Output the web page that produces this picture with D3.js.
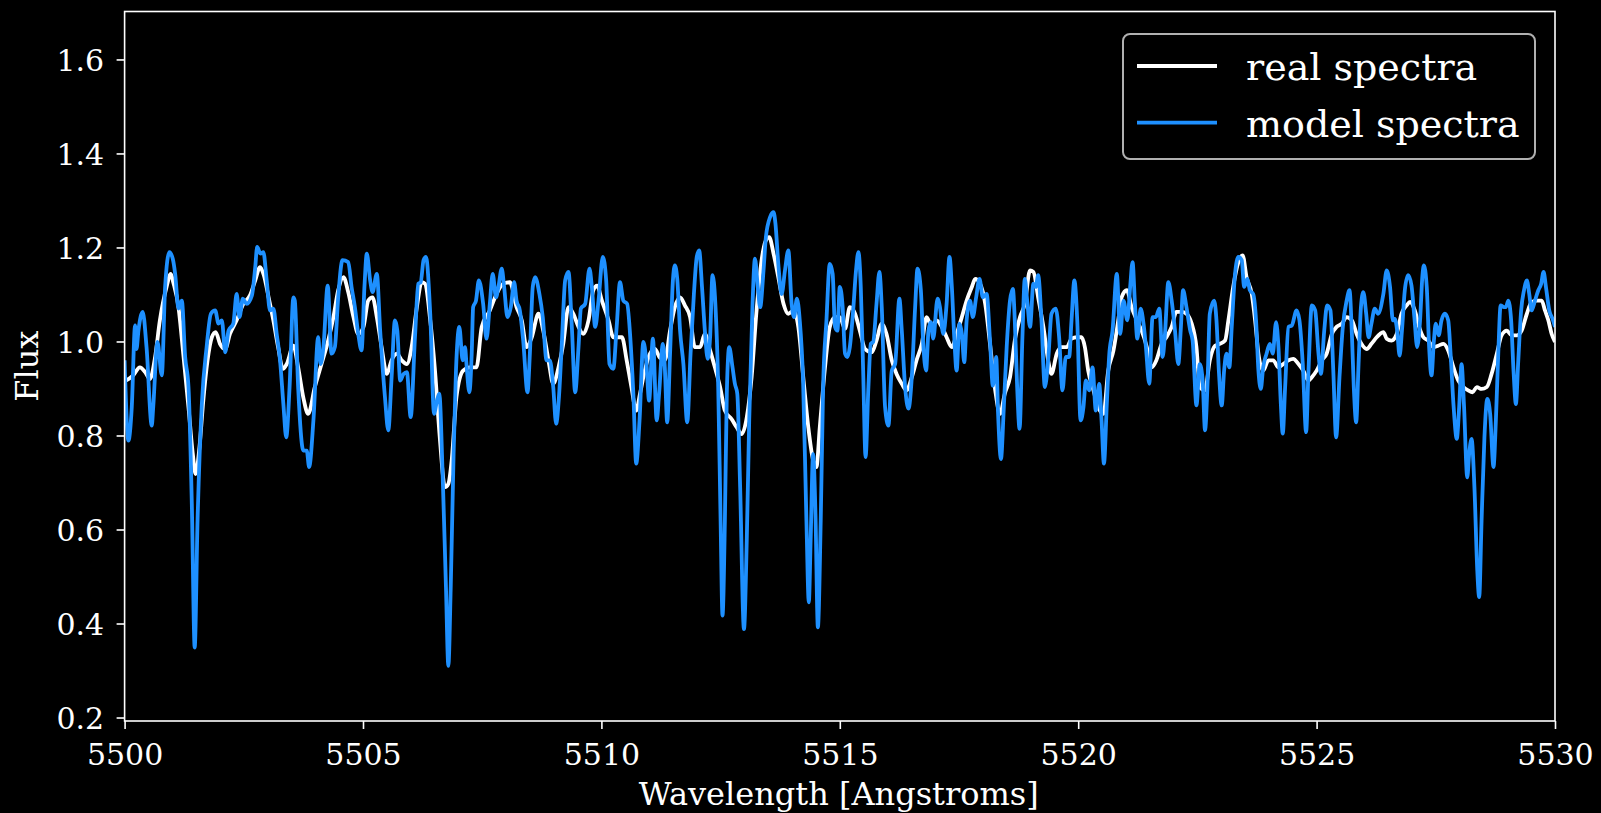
<!DOCTYPE html>
<html>
<head>
<meta charset="utf-8">
<script src="https://d3js.org/d3.v7.min.js"></script>
<style>
body { margin: 0; background: #000; }
svg { display: block; }
text { font-family: 'DejaVu Serif', serif; fill: #fff; }
</style>
</head>
<body>
<svg id="chart"></svg>
<script>

// Axis ticks
var xTicks = [5500, 5505, 5510, 5515, 5520, 5525, 5530];
var yTicks = [0.2, 0.4, 0.6, 0.8, 1.0, 1.2, 1.4, 1.6];

// Series names and colours
var seriesNames = ["real spectra", "model spectra"];
var seriesColors = ["#ffffff", "#1e90ff"];

var realPoints = [
[5500.00,0.915],[5500.18,0.928],[5500.32,0.945],[5500.43,0.935],[5500.53,0.920],[5500.64,0.967],
[5500.74,1.045],[5500.88,1.116],[5500.97,1.144],[5501.02,1.126],[5501.13,1.073],[5501.23,0.974],
[5501.34,0.860],[5501.43,0.761],[5501.49,0.718],[5501.57,0.775],[5501.65,0.874],[5501.74,0.960],
[5501.83,1.009],[5501.91,1.020],[5502.00,0.995],[5502.11,0.984],[5502.21,1.016],[5502.35,1.045],
[5502.49,1.080],[5502.63,1.098],[5502.74,1.130],[5502.84,1.158],[5502.92,1.141],[5503.02,1.094],
[5503.12,1.045],[5503.22,0.988],[5503.32,0.942],[5503.40,0.952],[5503.54,0.991],[5503.64,0.945],
[5503.75,0.880],[5503.85,0.846],[5503.99,0.903],[5504.13,0.952],[5504.27,1.002],[5504.38,1.052],
[5504.48,1.109],[5504.59,1.137],[5504.69,1.105],[5504.80,1.052],[5504.90,1.016],[5505.01,1.031],
[5505.11,1.087],[5505.20,1.094],[5505.29,1.052],[5505.39,0.988],[5505.50,0.931],[5505.60,0.960],
[5505.71,0.974],[5505.81,0.960],[5505.92,0.952],[5506.02,0.988],[5506.13,1.073],[5506.23,1.126],
[5506.30,1.123],[5506.41,1.045],[5506.51,0.938],[5506.61,0.796],[5506.72,0.690],[5506.79,0.697],
[5506.86,0.747],[5506.96,0.882],[5507.10,0.938],[5507.24,0.945],[5507.38,0.945],[5507.49,1.031],
[5507.66,1.066],[5507.80,1.101],[5507.94,1.123],[5508.08,1.126],[5508.22,1.073],[5508.33,1.045],
[5508.43,0.988],[5508.54,1.009],[5508.68,1.059],[5508.78,1.023],[5508.89,0.960],[5508.99,0.910],
[5509.10,0.945],[5509.20,0.995],[5509.31,1.073],[5509.41,1.059],[5509.52,1.031],[5509.62,1.016],
[5509.73,1.045],[5509.83,1.109],[5509.91,1.119],[5510.01,1.087],[5510.15,1.045],[5510.25,1.009],
[5510.43,1.009],[5510.53,0.960],[5510.63,0.903],[5510.73,0.853],[5510.81,0.889],[5510.91,0.938],
[5511.02,0.974],[5511.12,0.984],[5511.23,0.965],[5511.33,0.960],[5511.44,1.023],[5511.54,1.073],
[5511.65,1.094],[5511.75,1.077],[5511.86,1.052],[5511.96,0.988],[5512.07,0.988],[5512.17,1.016],
[5512.28,0.981],[5512.38,0.945],[5512.49,0.903],[5512.59,0.853],[5512.73,0.835],[5512.84,0.817],
[5512.94,0.803],[5513.05,0.839],[5513.15,0.924],[5513.26,1.073],[5513.36,1.173],[5513.45,1.215],
[5513.52,1.222],[5513.61,1.187],[5513.71,1.137],[5513.82,1.080],[5513.92,1.059],[5514.03,1.066],
[5514.13,1.031],[5514.24,0.917],[5514.34,0.817],[5514.44,0.747],[5514.51,0.733],[5514.58,0.817],
[5514.69,0.945],[5514.79,1.031],[5514.90,1.052],[5515.00,1.052],[5515.11,1.027],[5515.21,1.073],
[5515.32,1.059],[5515.42,1.023],[5515.53,0.984],[5515.67,0.977],[5515.77,1.002],[5515.88,1.038],
[5515.98,1.016],[5516.09,0.960],[5516.19,0.931],[5516.30,0.910],[5516.40,0.896],[5516.51,0.924],
[5516.61,0.960],[5516.72,0.995],[5516.82,1.052],[5516.93,1.031],[5517.03,1.045],[5517.14,1.031],
[5517.24,1.009],[5517.35,0.988],[5517.45,1.016],[5517.56,1.052],[5517.66,1.087],[5517.77,1.116],
[5517.84,1.133],[5517.94,1.123],[5518.05,1.080],[5518.15,0.995],[5518.26,0.896],[5518.36,0.846],
[5518.46,0.889],[5518.57,0.924],[5518.67,1.002],[5518.78,1.052],[5518.88,1.080],[5518.99,1.151],
[5519.06,1.148],[5519.16,1.094],[5519.27,1.031],[5519.37,0.960],[5519.44,0.931],[5519.55,0.974],
[5519.65,0.988],[5519.76,0.988],[5519.86,1.006],[5519.97,1.009],[5520.07,1.009],[5520.14,0.988],
[5520.21,0.938],[5520.32,0.896],[5520.42,0.860],[5520.53,0.846],[5520.63,0.938],[5520.74,0.981],
[5520.84,1.045],[5520.91,1.094],[5521.02,1.109],[5521.12,1.073],[5521.23,1.045],[5521.33,1.023],
[5521.44,0.988],[5521.54,0.945],[5521.64,0.960],[5521.75,0.995],[5521.85,1.009],[5521.96,1.031],
[5522.06,1.063],[5522.17,1.063],[5522.27,1.059],[5522.38,1.038],[5522.48,0.988],[5522.55,0.903],
[5522.66,0.896],[5522.76,0.960],[5522.87,0.991],[5522.97,0.995],[5523.08,1.002],[5523.15,1.045],
[5523.25,1.116],[5523.36,1.169],[5523.45,1.183],[5523.53,1.137],[5523.64,1.101],[5523.71,1.045],
[5523.78,0.974],[5523.88,0.938],[5523.99,0.960],[5524.09,0.960],[5524.20,0.945],[5524.30,0.952],
[5524.41,0.960],[5524.51,0.963],[5524.62,0.952],[5524.72,0.938],[5524.83,0.917],[5524.90,0.924],
[5525.00,0.938],[5525.11,0.960],[5525.21,0.974],[5525.32,1.016],[5525.42,1.031],[5525.53,1.038],
[5525.63,1.052],[5525.74,1.045],[5525.84,1.016],[5525.94,0.995],[5526.05,0.984],[5526.15,0.995],
[5526.26,1.009],[5526.33,1.016],[5526.40,1.020],[5526.47,1.006],[5526.57,1.002],[5526.68,1.016],
[5526.78,1.059],[5526.89,1.077],[5526.96,1.084],[5527.06,1.066],[5527.15,1.031],[5527.24,1.009],
[5527.34,1.002],[5527.45,0.988],[5527.55,0.991],[5527.66,0.995],[5527.76,0.981],[5527.87,0.945],
[5527.97,0.917],[5528.08,0.903],[5528.18,0.896],[5528.27,0.892],[5528.36,0.903],[5528.46,0.899],
[5528.57,0.903],[5528.67,0.931],[5528.78,0.974],[5528.88,1.013],[5528.99,1.023],[5529.09,1.013],
[5529.20,1.013],[5529.30,1.023],[5529.41,1.059],[5529.51,1.084],[5529.62,1.087],[5529.72,1.087],
[5529.79,1.066],[5529.86,1.045],[5529.93,1.016],[5530.00,0.999]
];

// Model spectrum, [wavelength, flux]
var modelPoints = [
[5500.00,0.960],[5500.08,0.789],[5500.15,0.860],[5500.22,1.034],[5500.25,0.984],[5500.29,1.023],
[5500.38,1.063],[5500.46,0.988],[5500.57,0.821],[5500.60,0.860],[5500.69,0.999],[5500.78,0.928],
[5500.85,1.116],[5500.94,1.190],[5501.01,1.176],[5501.06,1.144],[5501.13,1.070],[5501.20,1.087],
[5501.27,0.967],[5501.34,0.903],[5501.41,0.654],[5501.47,0.349],[5501.53,0.619],[5501.62,0.867],
[5501.72,0.988],[5501.81,1.059],[5501.90,1.066],[5501.97,1.038],[5502.04,1.045],[5502.11,0.977],
[5502.18,1.023],[5502.28,1.038],[5502.35,1.101],[5502.41,1.052],[5502.48,1.091],[5502.56,1.080],
[5502.67,1.098],[5502.74,1.158],[5502.78,1.201],[5502.85,1.187],[5502.91,1.190],[5502.98,1.130],
[5503.05,1.066],[5503.12,1.070],[5503.19,1.016],[5503.26,0.960],[5503.33,0.867],[5503.39,0.796],
[5503.46,0.903],[5503.54,1.094],[5503.57,1.087],[5503.64,0.903],[5503.75,0.768],[5503.82,0.768],
[5503.87,0.733],[5503.96,0.832],[5504.06,1.009],[5504.11,0.952],[5504.17,0.988],[5504.26,1.119],
[5504.34,0.974],[5504.41,0.988],[5504.48,1.094],[5504.57,1.173],[5504.69,1.169],[5504.76,1.116],
[5504.83,1.073],[5504.90,1.016],[5504.97,0.981],[5505.03,1.116],[5505.08,1.187],[5505.15,1.130],
[5505.20,1.105],[5505.29,1.144],[5505.36,1.023],[5505.46,0.882],[5505.53,0.811],[5505.60,0.924],
[5505.67,1.045],[5505.72,1.023],[5505.78,0.917],[5505.85,0.931],[5505.92,0.935],[5506.00,0.839],
[5506.09,1.009],[5506.16,1.123],[5506.21,1.126],[5506.27,1.173],[5506.32,1.180],[5506.41,1.059],
[5506.49,0.846],[5506.55,0.874],[5506.60,0.889],[5506.67,0.718],[5506.74,0.477],[5506.79,0.310],
[5506.84,0.477],[5506.90,0.761],[5506.95,0.938],[5507.02,1.031],[5507.09,0.960],[5507.14,0.988],
[5507.17,0.952],[5507.23,0.892],[5507.28,0.974],[5507.31,1.073],[5507.37,1.087],[5507.43,1.130],
[5507.52,1.080],[5507.59,1.006],[5507.66,1.080],[5507.72,1.144],[5507.79,1.094],[5507.84,1.116],
[5507.91,1.155],[5507.96,1.116],[5508.03,1.052],[5508.10,1.073],[5508.17,1.126],[5508.22,1.087],
[5508.29,1.066],[5508.36,1.002],[5508.45,0.892],[5508.50,0.974],[5508.56,1.116],[5508.61,1.137],
[5508.70,1.101],[5508.77,1.052],[5508.85,0.960],[5508.92,0.960],[5508.99,0.903],[5509.05,0.825],
[5509.11,0.882],[5509.17,0.995],[5509.24,1.130],[5509.31,1.148],[5509.38,1.031],[5509.45,0.892],
[5509.52,0.988],[5509.57,1.070],[5509.66,1.080],[5509.75,1.155],[5509.80,1.116],[5509.87,1.031],
[5509.94,1.087],[5510.03,1.180],[5510.10,1.130],[5510.17,0.952],[5510.25,0.942],[5510.32,1.031],
[5510.39,1.126],[5510.46,1.087],[5510.54,1.080],[5510.61,1.002],[5510.67,0.889],[5510.73,0.740],
[5510.80,0.832],[5510.88,0.999],[5510.94,0.960],[5511.00,0.874],[5511.08,1.006],[5511.16,0.832],
[5511.21,0.889],[5511.29,0.995],[5511.33,0.945],[5511.38,0.828],[5511.44,0.974],[5511.50,1.130],
[5511.54,1.162],[5511.59,1.134],[5511.65,1.023],[5511.72,0.952],[5511.80,0.828],[5511.87,0.974],
[5511.94,1.101],[5512.00,1.180],[5512.05,1.194],[5512.11,1.116],[5512.17,1.023],[5512.23,0.963],
[5512.28,1.009],[5512.33,1.141],[5512.39,1.080],[5512.45,0.903],[5512.50,0.619],[5512.54,0.417],
[5512.59,0.619],[5512.63,0.889],[5512.68,0.988],[5512.75,0.945],[5512.80,0.910],[5512.85,0.889],
[5512.91,0.690],[5512.99,0.388],[5513.05,0.583],[5513.10,0.832],[5513.17,1.080],[5513.22,1.176],
[5513.28,1.116],[5513.33,1.073],[5513.40,1.151],[5513.45,1.222],[5513.54,1.265],[5513.61,1.275],
[5513.65,1.251],[5513.71,1.165],[5513.78,1.101],[5513.85,1.151],[5513.92,1.194],[5513.99,1.080],
[5514.04,1.052],[5514.10,1.091],[5514.16,1.045],[5514.23,0.917],[5514.30,0.619],[5514.35,0.445],
[5514.39,0.583],[5514.44,0.761],[5514.49,0.633],[5514.54,0.392],[5514.60,0.619],[5514.65,0.903],
[5514.72,1.045],[5514.79,1.165],[5514.85,1.144],[5514.90,1.031],[5514.95,1.023],[5515.00,1.116],
[5515.06,1.073],[5515.11,0.974],[5515.16,0.967],[5515.21,0.988],[5515.28,1.066],[5515.34,1.151],
[5515.39,1.190],[5515.44,1.116],[5515.49,0.938],[5515.54,0.754],[5515.60,0.903],[5515.65,0.995],
[5515.70,0.999],[5515.77,1.080],[5515.83,1.148],[5515.88,1.073],[5515.95,0.860],[5516.02,0.821],
[5516.09,0.938],[5516.16,0.952],[5516.25,1.091],[5516.30,1.023],[5516.37,0.903],[5516.44,0.857],
[5516.51,0.924],[5516.58,1.073],[5516.63,1.155],[5516.70,1.109],[5516.75,0.995],[5516.81,0.938],
[5516.86,1.023],[5516.91,1.041],[5516.96,1.006],[5517.05,1.091],[5517.10,1.073],[5517.17,1.016],
[5517.24,1.080],[5517.30,1.180],[5517.35,1.116],[5517.40,1.009],[5517.45,0.938],[5517.51,1.038],
[5517.56,1.016],[5517.61,0.956],[5517.66,1.045],[5517.73,1.087],[5517.79,1.052],[5517.86,1.094],
[5517.93,1.133],[5518.00,1.094],[5518.08,1.101],[5518.15,1.002],[5518.21,0.906],[5518.28,0.967],
[5518.32,0.846],[5518.38,0.750],[5518.44,0.860],[5518.50,0.988],[5518.57,1.087],[5518.63,1.112],
[5518.67,1.045],[5518.72,0.903],[5518.77,0.814],[5518.83,1.009],[5518.88,1.133],[5518.93,1.087],
[5518.99,1.031],[5519.06,1.123],[5519.11,1.116],[5519.16,1.141],[5519.23,1.045],[5519.30,0.903],
[5519.37,0.960],[5519.44,1.059],[5519.53,1.070],[5519.60,1.009],[5519.67,0.896],[5519.74,0.967],
[5519.81,0.967],[5519.86,1.045],[5519.92,1.130],[5519.98,1.045],[5520.05,0.832],[5520.11,0.860],
[5520.16,0.917],[5520.23,0.896],[5520.30,0.945],[5520.37,0.853],[5520.44,0.910],[5520.49,0.832],
[5520.54,0.740],[5520.60,0.867],[5520.65,0.970],[5520.72,1.023],[5520.81,1.144],[5520.88,1.016],
[5520.95,1.087],[5521.03,1.045],[5521.09,1.116],[5521.14,1.169],[5521.19,1.080],[5521.24,1.006],
[5521.31,1.070],[5521.37,1.038],[5521.42,0.988],[5521.49,0.910],[5521.56,1.052],[5521.63,1.052],
[5521.70,1.070],[5521.77,0.967],[5521.82,1.016],[5521.89,1.126],[5521.96,1.087],[5522.03,1.023],
[5522.10,0.952],[5522.15,1.023],[5522.20,1.109],[5522.27,1.073],[5522.35,1.023],[5522.40,1.002],
[5522.48,0.864],[5522.55,0.952],[5522.61,0.917],[5522.66,0.811],[5522.71,0.903],[5522.76,1.059],
[5522.85,1.087],[5522.90,1.045],[5522.95,0.938],[5523.01,0.864],[5523.06,0.938],[5523.11,0.974],
[5523.17,0.945],[5523.22,1.031],[5523.29,1.144],[5523.36,1.180],[5523.43,1.173],[5523.48,1.116],
[5523.55,1.133],[5523.60,1.109],[5523.67,1.101],[5523.73,1.045],[5523.78,0.938],[5523.83,0.899],
[5523.88,0.945],[5523.95,0.974],[5524.02,0.995],[5524.08,0.974],[5524.15,1.041],[5524.20,0.988],
[5524.25,0.867],[5524.29,0.804],[5524.34,0.903],[5524.41,1.031],[5524.48,1.034],[5524.58,1.066],
[5524.64,1.045],[5524.71,0.952],[5524.78,0.807],[5524.83,0.938],[5524.90,1.077],[5524.97,1.066],
[5525.04,0.974],[5525.09,0.931],[5525.16,1.023],[5525.22,1.077],[5525.29,1.066],[5525.35,0.938],
[5525.41,0.796],[5525.48,0.924],[5525.55,1.031],[5525.63,1.087],[5525.69,1.109],[5525.74,1.016],
[5525.78,0.903],[5525.83,0.828],[5525.88,0.952],[5525.93,1.073],[5525.98,1.105],[5526.04,1.059],
[5526.09,1.009],[5526.15,1.038],[5526.22,1.070],[5526.29,1.059],[5526.40,1.101],[5526.47,1.151],
[5526.54,1.116],[5526.60,1.045],[5526.64,1.048],[5526.69,1.023],[5526.74,0.970],[5526.79,1.023],
[5526.85,1.109],[5526.92,1.141],[5526.99,1.119],[5527.05,1.052],[5527.11,0.988],[5527.17,1.045],
[5527.22,1.141],[5527.25,1.162],[5527.31,1.116],[5527.36,0.988],[5527.41,0.928],[5527.46,1.002],
[5527.50,1.038],[5527.56,1.013],[5527.62,1.045],[5527.69,1.059],[5527.76,1.045],[5527.81,0.974],
[5527.87,0.867],[5527.94,0.793],[5527.99,0.860],[5528.04,0.952],[5528.09,0.867],[5528.16,0.711],
[5528.20,0.761],[5528.25,0.793],[5528.31,0.690],[5528.37,0.513],[5528.41,0.456],[5528.46,0.619],
[5528.52,0.796],[5528.58,0.878],[5528.64,0.846],[5528.71,0.733],[5528.76,0.832],[5528.81,0.974],
[5528.86,1.077],[5528.93,1.073],[5528.97,1.073],[5529.02,1.087],[5529.08,1.045],[5529.13,0.938],
[5529.18,0.867],[5529.23,0.960],[5529.29,1.066],[5529.35,1.109],[5529.41,1.130],[5529.46,1.101],
[5529.51,1.066],[5529.58,1.087],[5529.65,1.109],[5529.71,1.123],[5529.76,1.148],[5529.81,1.116],
[5529.88,1.066],[5529.95,1.048],[5530.00,1.031]
];

var width = 1601;
var height = 813;
var plotLeft = 124.6, plotRight = 1555, plotTop = 11.5, plotBottom = 721;

var svg = d3.select("#chart").attr("width", width).attr("height", height);
svg.append("rect").attr("width", width).attr("height", height).attr("fill", "#000");

var xScale = d3.scaleLinear().domain([5500, 5530]).range([plotLeft, plotRight]);
var yScale = d3.scaleLinear().domain([0.1926, 1.702]).range([plotBottom, plotTop]);

svg.append("clipPath").attr("id", "plotclip")
  .append("rect")
  .attr("x", plotLeft).attr("y", plotTop)
  .attr("width", plotRight - plotLeft).attr("height", plotBottom - plotTop);

var line = d3.line()
  .x(function (d) { return xScale(d[0]); })
  .y(function (d) { return yScale(d[1]); })
  .curve(d3.curveMonotoneX);

var series = [realPoints, modelPoints];
svg.append("g").attr("clip-path", "url(#plotclip)")
  .selectAll("path.spec")
  .data(series)
  .enter().append("path")
  .attr("class", "spec")
  .attr("d", line)
  .attr("fill", "none")
  .attr("stroke", function (d, i) { return seriesColors[i]; })
  .attr("stroke-width", 3.8)
  .attr("stroke-linejoin", "round");

// Axes
var xAxis = svg.append("g")
  .attr("transform", "translate(0," + plotBottom + ")")
  .call(d3.axisBottom(xScale).tickValues(xTicks).tickFormat(d3.format("d")).tickSize(8).tickSizeOuter(0));
xAxis.selectAll("text").attr("y", 44).attr("dy", null);

var yAxis = svg.append("g")
  .attr("transform", "translate(" + plotLeft + ",0)")
  .call(d3.axisLeft(yScale).tickValues(yTicks).tickFormat(d3.format(".1f")).tickSize(8).tickSizeOuter(0));
yAxis.selectAll("text").attr("x", -20.5).attr("dy", 11);

svg.selectAll(".tick line").attr("stroke", "#fff").attr("stroke-width", 1.6);
svg.selectAll(".domain").remove();
svg.selectAll(".tick text")
  .style("font-family", "'DejaVu Serif', serif")
  .style("font-size", "30px")
  .attr("fill", "#fff");

// Frame
svg.append("rect")
  .attr("x", plotLeft).attr("y", plotTop)
  .attr("width", plotRight - plotLeft).attr("height", plotBottom - plotTop)
  .attr("fill", "none").attr("stroke", "#fff").attr("stroke-width", 1.6);

// Axis labels
svg.append("text")
  .attr("x", (plotLeft + plotRight) / 2 - 1).attr("y", 805)
  .attr("text-anchor", "middle")
  .style("font-size", "32px")
  .text("Wavelength [Angstroms]");

svg.append("text")
  .attr("transform", "translate(38," + ((plotTop + plotBottom) / 2) + ") rotate(-90)")
  .attr("text-anchor", "middle")
  .style("font-size", "32px")
  .text("Flux");

// Legend
var legend = svg.append("g");
legend.append("rect")
  .attr("x", 1123).attr("y", 34).attr("width", 412).attr("height", 125)
  .attr("rx", 7).attr("ry", 7)
  .attr("fill", "#000").attr("stroke", "#b0b0b0").attr("stroke-width", 2);

var rows = legend.selectAll("g.row").data(seriesNames).enter().append("g")
  .attr("class", "row")
  .attr("transform", function (d, i) { return "translate(0," + (66 + i * 56.6) + ")"; });
rows.append("line")
  .attr("x1", 1137).attr("x2", 1217)
  .attr("stroke", function (d, i) { return seriesColors[i]; })
  .attr("stroke-width", 3.8);
rows.append("text")
  .attr("x", 1246).attr("y", 14)
  .style("font-size", "38px")
  .text(function (d) { return d; });

</script>
</body>
</html>
